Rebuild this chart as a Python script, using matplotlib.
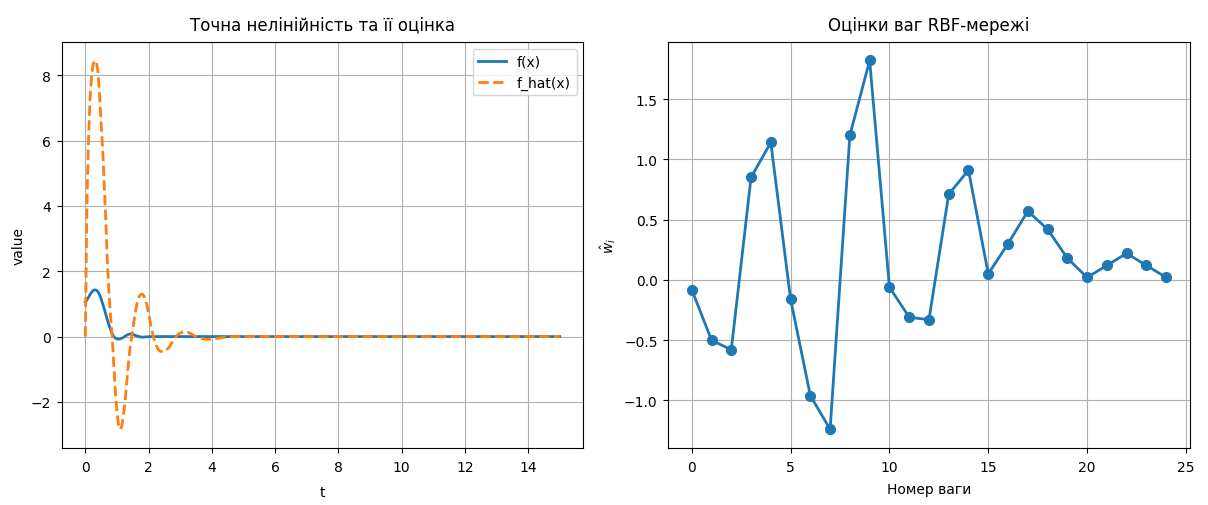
import matplotlib
matplotlib.use("Agg")
import matplotlib.pyplot as plt

# --- left: exact nonlinearity and its estimate ---
t_f = [0.0, 0.05, 0.1, 0.15, 0.2, 0.25, 0.3, 0.35, 0.4, 0.45, 0.5, 0.55, 0.6,
       0.65, 0.7, 0.75, 0.8, 0.85, 0.9, 0.95, 1.0, 1.05, 1.1, 1.2, 1.3, 1.4,
       1.5, 1.6, 1.7, 1.8, 1.9, 2.1, 3.0, 5.0, 10.0, 15.0]
f_vals = [1.05, 1.12, 1.2, 1.29, 1.36, 1.41, 1.43, 1.42, 1.37, 1.28, 1.15, 1.0,
          0.84, 0.67, 0.5, 0.35, 0.21, 0.09, 0.0, -0.05, -0.07, -0.08, -0.07,
          -0.03, 0.04, 0.08, 0.07, 0.03, 0.0, -0.02, -0.01, 0.0, 0.0, 0.0, 0.0, 0.0]

t_fhat = [0.0, 0.03, 0.06, 0.1, 0.15, 0.2, 0.25, 0.3, 0.35, 0.4, 0.45, 0.5,
          0.55, 0.6, 0.65, 0.7, 0.75, 0.8, 0.85, 0.9, 0.95, 1.0, 1.05, 1.1,
          1.15, 1.2, 1.25, 1.3, 1.35, 1.4, 1.45, 1.5, 1.55, 1.6, 1.65, 1.7,
          1.75, 1.8, 1.85, 1.9, 1.95, 2.0, 2.05, 2.1, 2.15, 2.2, 2.25, 2.3,
          2.35, 2.45, 2.55, 2.65, 2.75, 2.85, 2.95, 3.05, 3.15, 3.25, 3.35,
          3.5, 3.65, 3.8, 4.0, 4.2, 4.4, 4.7, 6.0, 10.0, 15.0]
fhat_vals = [0.0, 2.5, 4.5, 6.0, 7.3, 8.0, 8.35, 8.45, 8.4, 8.1, 7.4, 6.5,
             5.7, 4.6, 3.5, 2.2, 1.3, 0.6, 0.0, -0.9, -1.7, -2.3, -2.7, -2.84,
             -2.75, -2.45, -2.05, -1.5, -0.95, -0.45, -0.1, 0.2, 0.55, 0.85, 1.08, 1.22,
             1.29, 1.3, 1.25, 1.13, 0.95, 0.72, 0.45, 0.2, 0.0, -0.16, -0.29, -0.38,
             -0.44, -0.47, -0.43, -0.32, -0.16, -0.02, 0.08, 0.13, 0.15, 0.13, 0.08,
             0.0, -0.05, -0.08, -0.08, -0.05, -0.02, 0.0, 0.0, 0.0, 0.0]

# --- right: RBF weight estimates ---
w_idx = list(range(25))
w_hat = [-0.08, -0.50, -0.58, 0.85, 1.14, -0.16, -0.96, -1.24, 1.20, 1.82,
         -0.06, -0.31, -0.33, 0.71, 0.91, 0.05, 0.30, 0.57, 0.42, 0.18,
         0.02, 0.12, 0.22, 0.12, 0.02]

plt.rcParams['xtick.major.pad'] = 5
plt.rcParams['ytick.major.pad'] = 4

fig = plt.figure(figsize=(12.08, 5.06), dpi=100)
ax1 = fig.add_axes([0.051, 0.113, 0.432, 0.802])
ax2 = fig.add_axes([0.553, 0.113, 0.432, 0.802])

ax1.plot(t_f, f_vals, label="f(x)", linewidth=2)
ax1.plot(t_fhat, fhat_vals, "--", label="f_hat(x)", linewidth=2)
ax1.set_title("Точна нелінійність та її оцінка", fontsize=12, pad=9)
ax1.set_xlabel("t", labelpad=8)
ax1.set_ylabel("value")
ax1.grid(True)
ax1.legend(loc="upper right")

ax2.plot(w_idx, w_hat, marker="o", markersize=7, linewidth=2)
ax2.set_title("Оцінки ваг RBF-мережі", fontsize=12, pad=9)
ax2.set_xlabel("Номер ваги", labelpad=6)
ax2.set_ylabel(r"$\hat{w}_i$")
ax2.grid(True)

fig.savefig("out.png", dpi=100)
